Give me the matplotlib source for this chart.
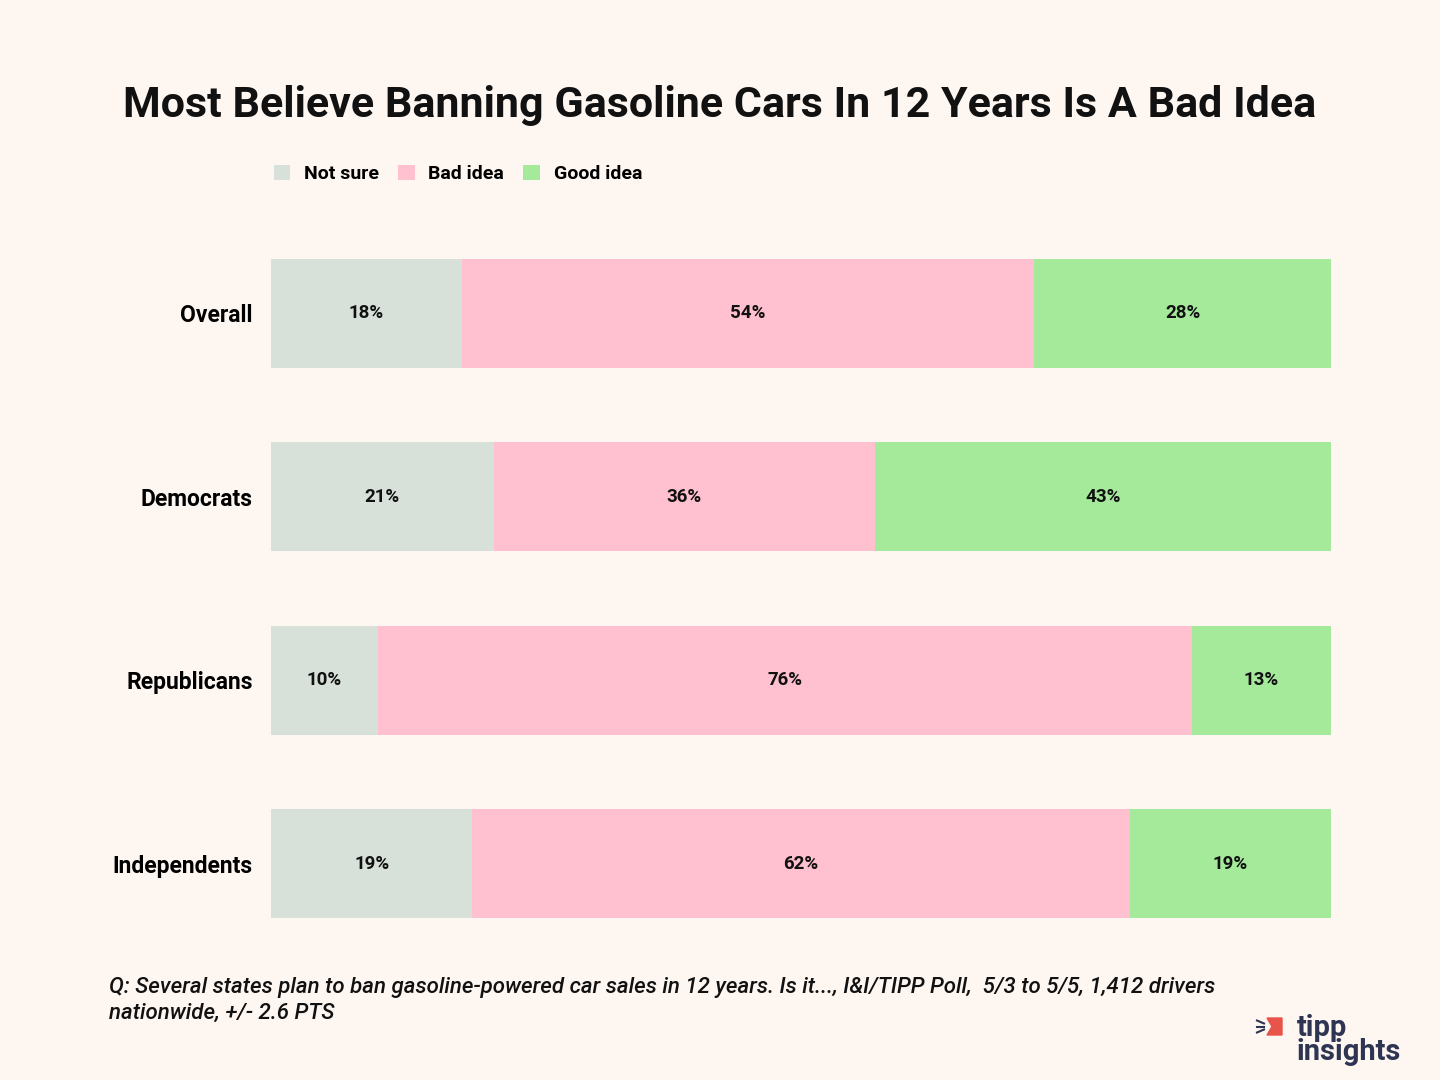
import matplotlib.pyplot as plt
import numpy as np
from matplotlib.patches import Polygon
from matplotlib.lines import Line2D

groups = ["Overall", "Democrats", "Republicans", "Independents"]
series = ["Not sure", "Bad idea", "Good idea"]
not_sure = [18, 21, 10, 19]
bad_idea = [54, 36, 76, 62]
good_idea = [28, 43, 13, 19]
colors = ["#D7E1DA", "#FFC0CF", "#A5E99B"]

title = "Most Believe Banning Gasoline Cars In 12 Years Is A Bad Idea"
note = ("Q: Several states plan to ban gasoline-powered car sales in 12 years. Is it..., I&I/TIPP Poll,  5/3 to 5/5, 1,412 drivers\n"
        "nationwide, +/- 2.6 PTS")

bg = "#FDF6F1"
plt.rcParams['font.family'] = ['Roboto', 'DejaVu Sans']

fig = plt.figure(figsize=(14.4, 10.8), dpi=100, facecolor=bg)
ax = fig.add_axes([271/1440, 1 - 955.2/1080, 1060/1440, 733.4/1080])
ax.set_facecolor(bg)

data = np.array([not_sure, bad_idea, good_idea], dtype=float)
totals = data.sum(axis=0)
y = np.arange(len(groups))
left = np.zeros(len(groups))
for i, name in enumerate(series):
    widths = data[i] / totals * 100
    ax.barh(y, widths, left=left, height=0.595, color=colors[i], label=name)
    for j in range(len(groups)):
        ax.text(left[j] + widths[j] / 2, y[j], f"{int(data[i][j])}%",
                ha="center", va="center", fontsize=13.5, fontweight="bold", color="#111111")
    left += widths

ax.set_xlim(0, 100)
ax.set_ylim(len(groups) - 0.5, -0.5)
ax.set_yticks(y)
ax.set_yticklabels(groups, fontsize=16.5, fontweight="bold")
ax.tick_params(axis="y", length=0, pad=13)
ax.set_xticks([])
for s in ax.spines.values():
    s.set_visible(False)

fig.text(0.5, 1 - 105/1080, title, ha="center", va="center", fontsize=31, fontweight="bold", color="#111111")

handles, labels = ax.get_legend_handles_labels()
fig.legend(handles, labels, loc="center left", bbox_to_anchor=(256/1440, 1 - 174/1080), ncol=3,
           frameon=False, prop={"weight": "bold", "size": 14},
           handlelength=0.85, handleheight=0.85, columnspacing=1.0, handletextpad=0.7)

fig.text(109/1440, 1 - 1000/1080, note, ha="left", va="center", fontsize=16, style="italic",
         fontweight="medium", color="#111111", linespacing=1.3)

# logo
fig.text(1297/1440, 1 - 1040/1080, "tipp\ninsights", ha="left", va="center", fontsize=21,
         fontweight="bold", color="#2E3552", linespacing=0.8)
flag = Polygon([[1267/1440, 1 - 1018/1080], [1282/1440, 1 - 1018/1080], [1282/1440, 1 - 1035/1080],
                [1267/1440, 1 - 1035/1080], [1272/1440, 1 - 1026.5/1080]],
               closed=True, transform=fig.transFigure, color="#E8534A")
fig.patches.append(flag)
for dy0, dy1 in [(-6, -3), (0, 0), (6, 3)]:
    fig.lines.append(Line2D([1257/1440, 1264/1440], [1 - (1026.5 + dy0)/1080, 1 - (1026.5 + dy1)/1080],
                            transform=fig.transFigure, color="#2E3552", lw=1.5))

fig.savefig("out.png", dpi=100, facecolor=bg)
